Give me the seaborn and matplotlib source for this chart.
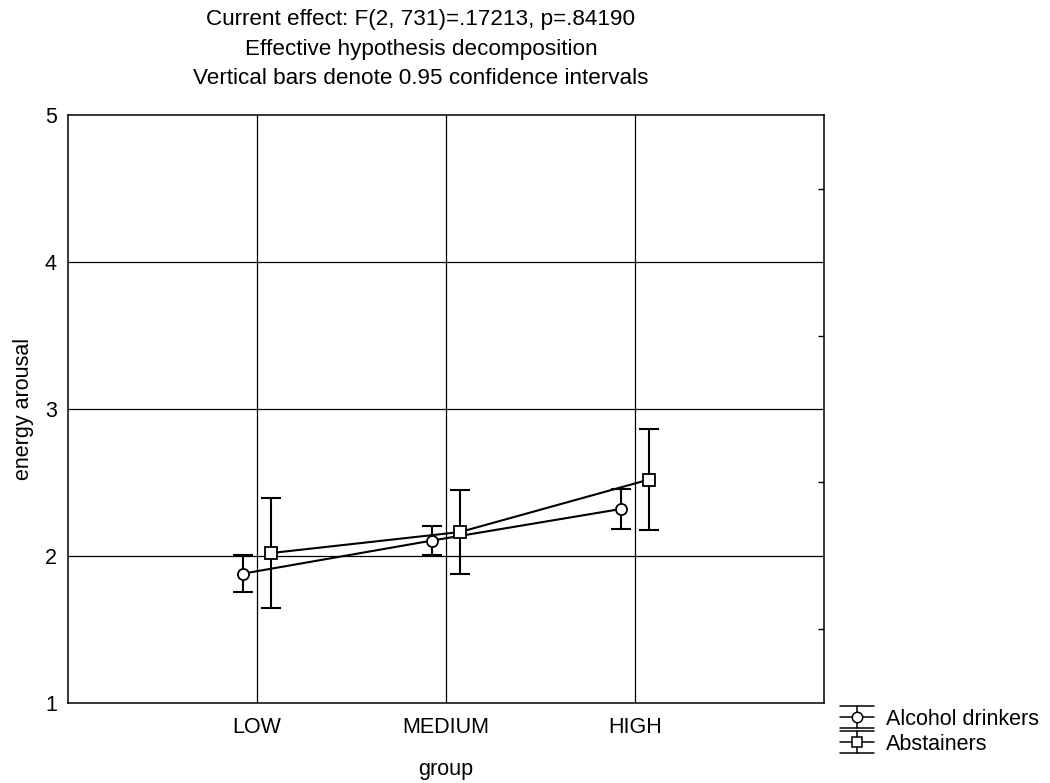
import numpy as np
import pandas as pd
import matplotlib
matplotlib.use("Agg")
import matplotlib.pyplot as plt
from matplotlib.lines import Line2D
from matplotlib.legend_handler import HandlerBase
import seaborn as sns

# Group means and 0.95 confidence half-widths
groups = ["LOW", "MEDIUM", "HIGH"]
series = ["Alcohol drinkers", "Abstainers"]
drinkers_mean = [1.88, 2.105, 2.32]
drinkers_ci = [0.125, 0.10, 0.133]
abstainers_mean = [2.02, 2.163, 2.52]
abstainers_ci = [0.375, 0.285, 0.345]

title_lines = [
    "Current effect: F(2, 731)=.17213, p=.84190",
    "Effective hypothesis decomposition",
    "Vertical bars denote 0.95 confidence intervals",
]

df = pd.DataFrame({
    "group": groups * 2,
    "series": [series[0]] * 3 + [series[1]] * 3,
    "mean": drinkers_mean + abstainers_mean,
    "ci": drinkers_ci + abstainers_ci,
})

sns.set_theme(style="white")
plt.rcParams["font.family"] = ["Liberation Sans", "DejaVu Sans"]
for key in ["text.color", "axes.labelcolor", "xtick.color", "ytick.color"]:
    plt.rcParams[key] = "black"


class ErrorbarKey(HandlerBase):
    """Legend key: line with marker, vertical bar and wide caps."""

    def create_artists(self, legend, orig_handle, xdescent, ydescent,
                       width, height, fontsize, trans):
        x0 = -xdescent
        x1 = x0 + width
        xm = (x0 + x1) / 2
        yc = -ydescent + height / 2
        h = 8.0
        kw = dict(color="black", lw=1.1, transform=trans)
        arts = [
            Line2D([x0, x1], [yc, yc], **kw),
            Line2D([x0, x1], [yc + h, yc + h], **kw),
            Line2D([x0, x1], [yc - h, yc - h], **kw),
            Line2D([xm, xm], [yc - h, yc + h], **kw),
            Line2D([xm], [yc], marker=orig_handle.get_marker(), ls="none",
                   markersize=7.5, markerfacecolor="white",
                   markeredgecolor="black", markeredgewidth=1.1,
                   transform=trans),
        ]
        return arts


fig = plt.figure(figsize=(10.5, 7.83), dpi=100)
ax = fig.add_axes([0.0648, 0.1022, 0.7200, 0.7509])

sns.pointplot(
    data=df, x="group", y="mean", hue="series", order=groups, hue_order=series,
    dodge=0.148, errorbar=None, markers=["o", "s"], linestyles=["-", "-"],
    palette=["black", "black"], ax=ax,
    markerfacecolor="white", markeredgecolor="black", markeredgewidth=1.3,
    markersize=8, linewidth=1.5, zorder=4,
)
if ax.get_legend() is not None:
    ax.get_legend().remove()

point_lines = ax.lines[:2]
for line, name in zip(point_lines, series):
    sub = df[df["series"] == name]
    xs = line.get_xdata()
    ax.errorbar(xs, sub["mean"].values, yerr=sub["ci"].values, fmt="none",
                ecolor="black", elinewidth=1.5, capsize=7, capthick=1.5,
                zorder=3)

ax.set_xlim(-1, 3)
ax.set_ylim(1, 5)
ax.set_yticks([1, 2, 3, 4, 5])
ax.set_yticks([1.5, 2.5, 3.5, 4.5], minor=True)

# grid lines at categories and inner y ticks
for xv in range(len(groups)):
    ax.axvline(xv, color="black", lw=0.9, zorder=1)
for yv in [2, 3, 4]:
    ax.axhline(yv, color="black", lw=0.9, zorder=1)

for s in ax.spines.values():
    s.set_visible(True)
    s.set_color("black")
    s.set_linewidth(1.1)

ax.tick_params(axis="both", which="major", length=0, labelsize=15.5,
               colors="black", pad=10)
ax.tick_params(axis="y", which="major", pad=8)
ax.tick_params(axis="y", which="minor", left=False, right=True,
               direction="in", length=4, width=1, color="black")

ax.set_xlabel("group", fontsize=15.5, labelpad=15)
ax.set_ylabel("energy arousal", fontsize=15.5, labelpad=8)

# three-line header above the plot
title_y_px = [20, 50, 79]
for txt, ypx in zip(title_lines, title_y_px):
    fig.text(421 / 1050, 1 - ypx / 783, txt, ha="center", va="center",
             fontsize=16.2, color="black")

leg = fig.legend(
    point_lines, series, loc="upper left", bbox_to_anchor=(0.792, 0.106),
    frameon=False, fontsize=15.5, handlelength=1.58, handletextpad=0.56,
    labelspacing=0.19, borderaxespad=0,
    handler_map={Line2D: ErrorbarKey()},
)

fig.savefig("out.png", dpi=100, facecolor="white")
